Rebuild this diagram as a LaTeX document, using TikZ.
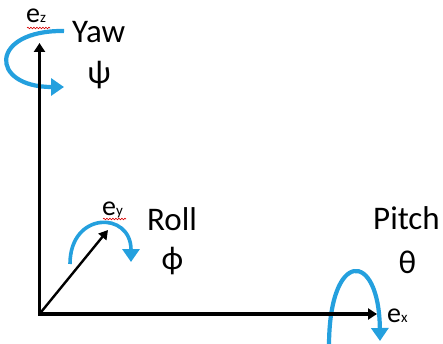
\documentclass[tikz,border=0pt]{standalone}
\usepackage{fontspec}
\setmainfont{Carlito}
\usetikzlibrary{arrows.meta,decorations.pathmorphing}
\definecolor{rotblue}{RGB}{36,160,222}
\tikzset{
  axis/.style={line width=3.2pt, line join=miter, black},
  rot/.style={line width=4.2pt, rotblue, -{Triangle[length=13pt,width=17pt]}},
  lbl/.style={inner sep=0pt, font=\fontsize{33}{36}\selectfont},
  ax/.style={inner sep=0pt, font=\fontsize{28}{30}\selectfont},
  squig/.style={red!85!black, line width=0.6pt, decorate, decoration={snake, segment length=3pt, amplitude=0.8pt}}
}
\newcommand{\axsub}[1]{{\fontsize{15}{16}\selectfont #1}}
\begin{document}
\begin{tikzpicture}[x=1pt,y=-1pt]
\useasboundingbox (0,0) rectangle (443,344);
% rotation arrows
\draw[rot] (64,31) .. controls (-11,30) and (-11,87) .. (64,87);
\draw[rot, line width=3.6pt] (70,264) .. controls (70,211) and (131,211) .. (131,262);
\draw[rot] (329,346) .. controls (329,249) and (379,249) .. (380,341);
% axes
\coordinate (O) at (39.5,314);
\coordinate (Z) at (39.5,43);
\coordinate (X) at (377,314);
\coordinate (Y) at (108,230);
\draw[axis, {Triangle[length=9pt,width=11pt]}-{Triangle[length=9pt,width=11pt]}] (Z) -- (O) -- (X);
\draw[line width=2.4pt, -{Triangle[length=9pt,width=10pt]}] (O) -- (Y);
% axis labels
\node[ax, anchor=base west] (ez) at (26,22.5) {e\axsub{z}};
\node[ax, anchor=base west] (ey) at (102,215.5) {e\axsub{y}};
\node[ax, anchor=base west] (ex) at (387,322) {e\axsub{x}};
\draw[squig] (27,28) -- (50,28);
\draw[squig] (103,219) -- (126,219);
% names
\node[lbl, anchor=base west] (yaw) at (72,43) {Yaw};
\node[lbl] (psi) at (99,75) {ψ};
\node[lbl, anchor=base west] (roll) at (147,230) {Roll};
\node[lbl] (phi) at (172.5,261) {ϕ};
\node[lbl, anchor=base west] (pitch) at (373,229) {Pitch};
\node[lbl] (theta) at (407.5,262.5) {θ};
\end{tikzpicture}
\end{document}
